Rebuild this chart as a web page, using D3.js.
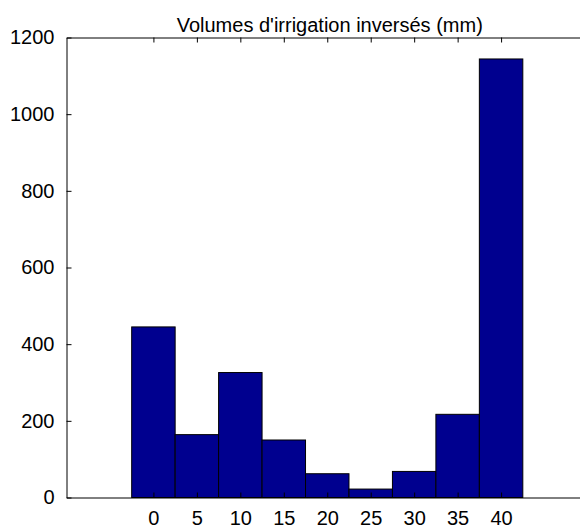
<!DOCTYPE html>
<html>
<head>
<meta charset="utf-8">
<script src="https://cdn.jsdelivr.net/npm/d3@7"></script>
<style>
  html, body { margin: 0; padding: 0; background: #fff; }
  svg { display: block; }
  text { font-family: "Liberation Sans", Arial, sans-serif; }
</style>
</head>
<body>
<svg id="chart" width="580" height="532"></svg>
<script>
// Data
const binCenters = [0, 5, 10, 15, 20, 25, 30, 35, 40];
const counts = [445, 164, 326, 150, 62, 22, 68, 217, 1144];
const xTickValues = [0, 5, 10, 15, 20, 25, 30, 35, 40];
const yTickValues = [0, 200, 400, 600, 800, 1000, 1200];
const titleText = "Volumes d'irrigation inversés (mm)";
const binWidth = 5;

const svg = d3.select("#chart");
const plotLeft = 66.5, plotRight = 588, plotTop = 37.5, plotBottom = 497.5;

const x = d3.scaleLinear().domain([-10, 50]).range([plotLeft, plotRight]);
const y = d3.scaleLinear().domain([0, 1200]).range([plotBottom, plotTop]);

// Bars
svg.append("g").selectAll("rect")
  .data(binCenters.map((c, i) => ({c, v: counts[i]})))
  .join("rect")
  .attr("x", d => x(d.c - binWidth / 2))
  .attr("width", d => x(d.c + binWidth / 2) - x(d.c - binWidth / 2))
  .attr("y", d => y(d.v))
  .attr("height", d => y(0) - y(d.v))
  .attr("fill", "#00008f")
  .attr("stroke", "#000")
  .attr("stroke-width", 1);

const fontSize = "20px";

// Bottom axis
const gx = svg.append("g").attr("transform", `translate(0,${plotBottom})`)
  .call(d3.axisBottom(x).tickValues(xTickValues).tickSizeInner(-5).tickSizeOuter(0).tickPadding(13));
gx.select(".domain").attr("stroke", "#000");
gx.selectAll("text").attr("font-size", fontSize).attr("fill", "#000").attr("font-family", "Liberation Sans, Arial, sans-serif");

// Top axis
const gt = svg.append("g").attr("transform", `translate(0,${plotTop})`)
  .call(d3.axisTop(x).tickValues(xTickValues).tickSizeInner(-5).tickSizeOuter(0).tickFormat(""));
gt.select(".domain").attr("stroke", "#000");

// Left axis
const gy = svg.append("g").attr("transform", `translate(${plotLeft},0)`)
  .call(d3.axisLeft(y).tickValues(yTickValues).tickSizeInner(-5).tickSizeOuter(0).tickPadding(12).tickFormat(d3.format("d")));
gy.select(".domain").attr("stroke", "#000");
gy.selectAll("text").attr("font-size", fontSize).attr("fill", "#000").attr("font-family", "Liberation Sans, Arial, sans-serif");

// Right axis (edge of box)
svg.append("g").attr("transform", `translate(${plotRight},0)`)
  .call(d3.axisRight(y).tickValues(yTickValues).tickSizeInner(-5).tickSizeOuter(0).tickFormat(""));

// Title
svg.append("text")
  .attr("x", (plotLeft + plotRight) / 2 + 2.5)
  .attr("y", 32)
  .attr("text-anchor", "middle")
  .attr("font-size", fontSize)
  .attr("fill", "#000")
  .text(titleText);
</script>
</body>
</html>
